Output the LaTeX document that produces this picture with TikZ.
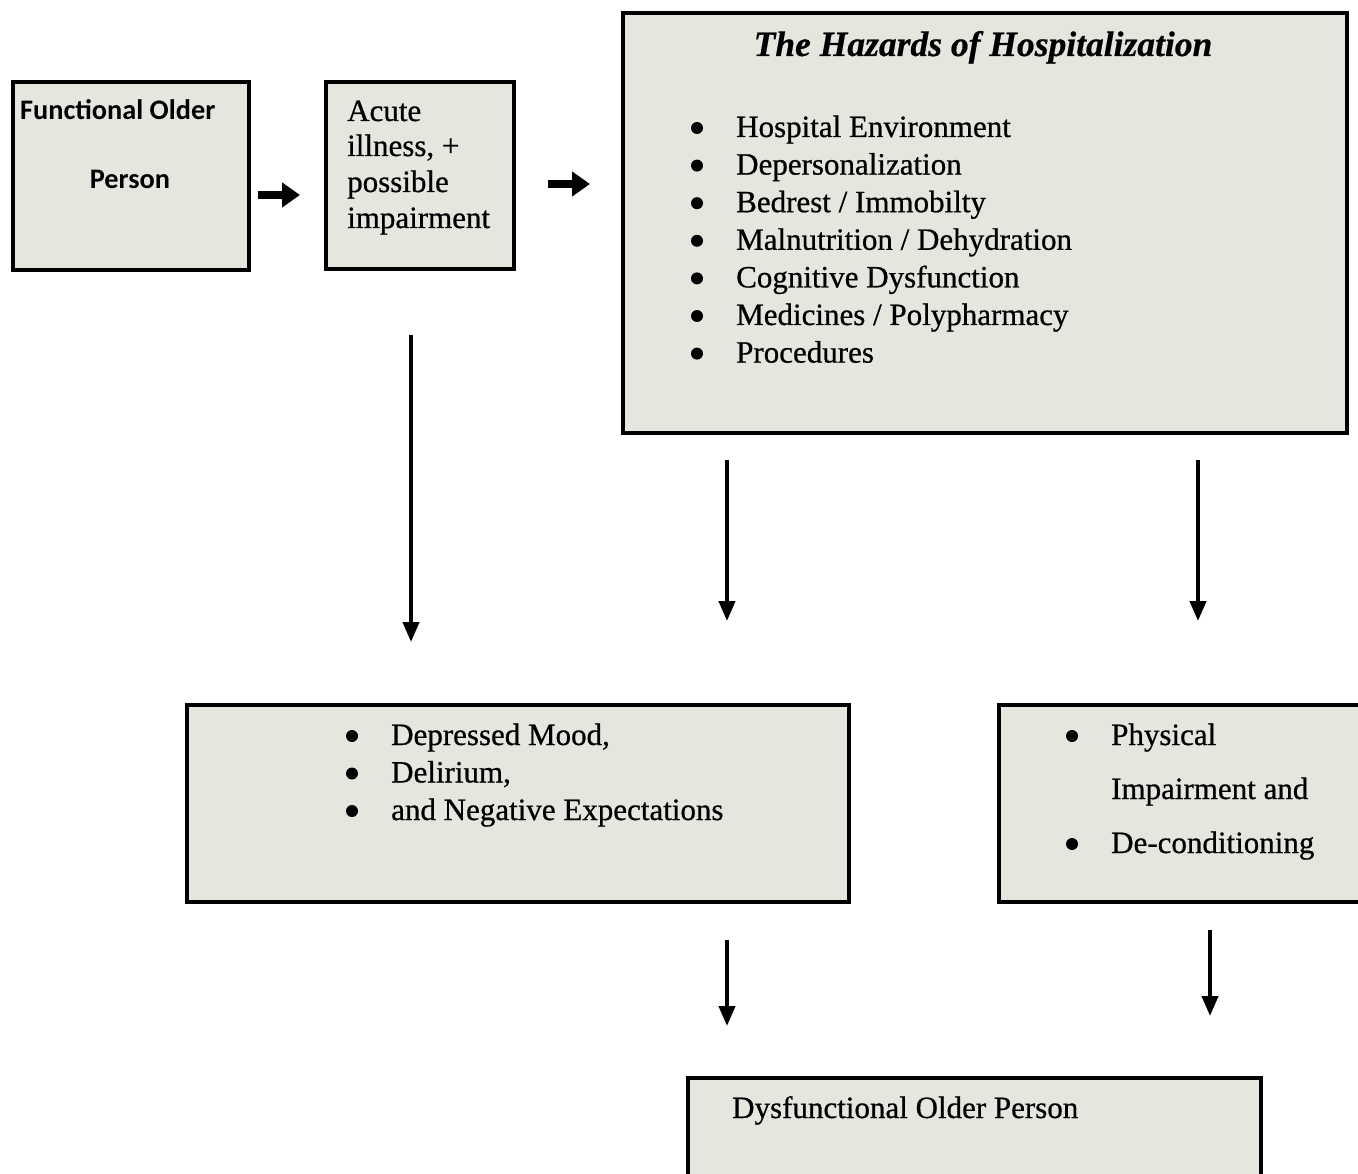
\documentclass[tikz,border=0pt]{standalone}
\usepackage{fontspec}
\setmainfont{Liberation Serif}[FakeBold=0.7]
\newfontfamily\calfont{Carlito}
\newfontfamily\titlefont{Liberation Serif}[FakeBold=0.5]
\usetikzlibrary{arrows.meta}
\definecolor{boxfill}{RGB}{229,230,221}
\tikzset{
  panel/.style={draw=black, line width=4pt, fill=boxfill, rectangle, anchor=north west, inner sep=0pt},
  txt/.style={anchor=base west, inner sep=0pt, font=\fontsize{31}{36}\selectfont},
  dot/.style={circle, fill=black, inner sep=0pt, minimum size=12pt},
  fatarrow/.style={line width=8pt, -{Triangle[length=18pt,width=24pt]}},
  downarrow/.style={line width=4pt, -{Triangle[length=20pt,width=16pt]}}
}
\begin{document}
\begin{tikzpicture}[x=1pt,y=-1pt]
\useasboundingbox[fill=white] (0,0) rectangle (1358,1174);
\begin{scope}
\clip (0,0) rectangle (1358,1174);
% boxes
\node[panel, minimum width=236pt, minimum height=188pt] (b1) at (11,80) {};
\node[panel, minimum width=188pt, minimum height=187pt] (b2) at (324,80) {};
\node[panel, minimum width=724pt, minimum height=420pt] (b3) at (621,11) {};
\node[panel, minimum width=662pt, minimum height=197pt] (b4) at (185,703) {};
\node[panel, minimum width=400pt, minimum height=197pt] (b5) at (997,703) {};
\node[panel, minimum width=573pt, minimum height=140pt] (b6) at (686,1076) {};
\end{scope}
% box 1
\node[anchor=base west, inner sep=0pt, font=\calfont\bfseries\fontsize{28.3}{32}\selectfont] (t1a) at (20,120) {Functional Older};
\node[anchor=base, inner sep=0pt, font=\calfont\bfseries\fontsize{28.3}{32}\selectfont] (t1b) at (130,189) {Person};
% box 2
\node[txt] (t2a) at (347,121) {Acute};
\node[txt] (t2b) at (347,156) {illness, +};
\node[txt] (t2c) at (347,192) {possible};
\node[txt] (t2d) at (347,228) {impairment};
% box 3
\node[anchor=base, inner sep=0pt, font=\titlefont\bfseries\itshape\fontsize{35.5}{40}\selectfont] (t3) at (983,56) {The Hazards of Hospitalization};
\foreach \t [count=\i] in {Hospital Environment, Depersonalization, Bedrest / Immobilty, Malnutrition / Dehydration, Cognitive Dysfunction, Medicines / Polypharmacy, Procedures}{
  \pgfmathsetmacro{\yy}{137+37.6*(\i-1)}
  \node[dot] (d3\i) at (697,\yy-9) {};
  \node[txt] (h\i) at (736,\yy) {\t};
}
% box 4
\foreach \t [count=\i] in {{Depressed Mood,}, {Delirium,}, and Negative Expectations}{
  \pgfmathsetmacro{\yy}{745+37.5*(\i-1)}
  \node[dot] (d4\i) at (352,\yy-9) {};
  \node[txt] (m\i) at (391,\yy) {\t};
}
% box 5
\node[dot] (d51) at (1072,736) {};
\node[txt] (p1) at (1111,745) {Physical};
\node[txt] (p2) at (1111,799) {Impairment and};
\node[dot] (d52) at (1072,844) {};
\node[txt] (p3) at (1111,853) {De-conditioning};
% box 6
\node[txt] (t6) at (732,1118) {Dysfunctional Older Person};
% arrows
\coordinate (a1s) at (258,195); \coordinate (a1e) at (300,195);
\coordinate (a2s) at (548,184); \coordinate (a2e) at (590,184);
\draw[fatarrow] (a1s) -- (a1e);
\draw[fatarrow] (a2s) -- (a2e);
\coordinate (v1s) at (411,335); \coordinate (v1e) at (411,642);
\coordinate (v2s) at (727,460); \coordinate (v2e) at (727,621);
\coordinate (v3s) at (1198,460); \coordinate (v3e) at (1198,621);
\coordinate (v4s) at (727,940); \coordinate (v4e) at (727,1026);
\coordinate (v5s) at (1210,930); \coordinate (v5e) at (1210,1016);
\foreach \n in {1,...,5}{\draw[downarrow] (v\n s) -- (v\n e);}
\end{tikzpicture}
\end{document}
